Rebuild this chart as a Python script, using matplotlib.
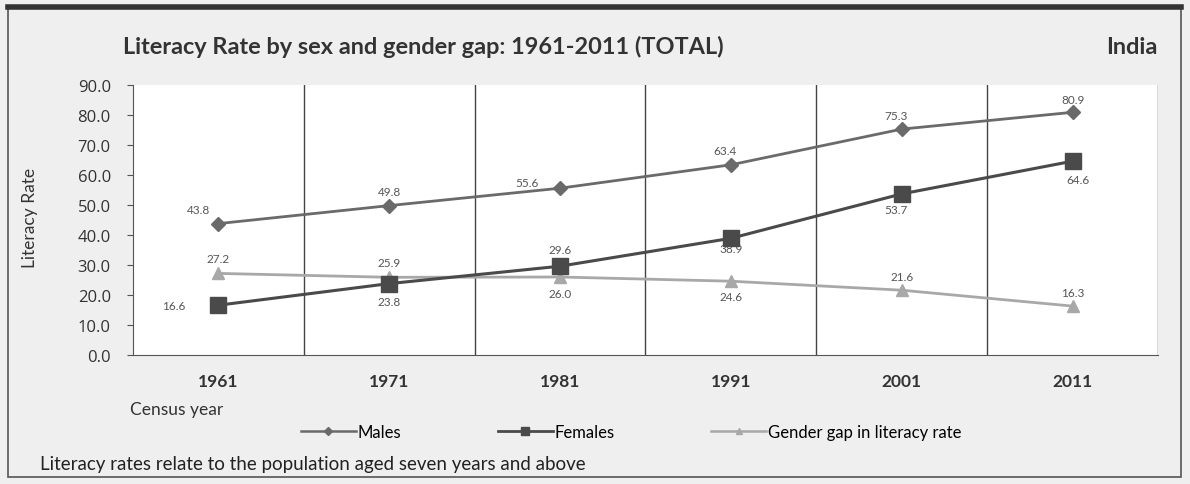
import matplotlib.pyplot as plt
from matplotlib.lines import Line2D
from matplotlib.patches import Rectangle

# Census data
years = ['1961', '1971', '1981', '1991', '2001', '2011']
males = [43.8, 49.8, 55.6, 63.4, 75.3, 80.9]
females = [16.6, 23.8, 29.6, 38.9, 53.7, 64.6]
gender_gap = [27.2, 25.9, 26.0, 24.6, 21.6, 16.3]
yticks = [0, 10, 20, 30, 40, 50, 60, 70, 80, 90]

plt.rcParams['font.family'] = ['Lato', 'DejaVu Sans']

fig = plt.figure(figsize=(11.9, 4.85), dpi=100)
fig.patch.set_facecolor('#efefef')
ax = fig.add_axes([133 / 1190, 1 - 356 / 485, (1158 - 133) / 1190, (356 - 86) / 485])
ax.set_facecolor('white')

x = list(range(len(years)))
male_col = '#6a6a6a'
female_col = '#4a4a4a'
gap_col = '#a8a8a8'

ax.plot(x, gender_gap, color=gap_col, lw=2, marker='^', ms=8, zorder=3)
ax.plot(x, females, color=female_col, lw=2.2, marker='s', ms=11, zorder=4)
ax.plot(x, males, color=male_col, lw=2, marker='D', ms=7, zorder=5)

# data labels (offsets in points)
male_off = [(-14, 10), (0, 10), (-24, 4), (-4, 10), (-4, 10), (0, 9)]
female_off = [(-32, 0), (0, -13), (0, 12), (0, -7), (-4, -11), (4, -13)]
gap_off = [(0, 11), (0, 11), (0, -12), (0, -11), (0, 10), (0, 10)]
lab_kw = dict(textcoords='offset points', ha='center', va='center',
              fontsize=8.5, color='#555555')
for i in x:
    ax.annotate(f'{males[i]:.1f}', (i, males[i]), xytext=male_off[i], **lab_kw)
    ax.annotate(f'{females[i]:.1f}', (i, females[i]), xytext=female_off[i], **lab_kw)
    ax.annotate(f'{gender_gap[i]:.1f}', (i, gender_gap[i]), xytext=gap_off[i], **lab_kw)

ax.set_xlim(-0.5, len(years) - 0.5)
ax.set_ylim(0, 90)
ax.set_yticks(yticks)
ax.set_yticklabels([f'{v:.1f}' for v in yticks], fontsize=12, color='#333333',
                   fontfamily=['Open Sans', 'DejaVu Sans'])
ax.set_xticks(x)
ax.set_xticklabels(years, fontsize=12.5, fontweight='bold', color='#333333')
ax.tick_params(axis='x', length=0, pad=13)
ax.tick_params(axis='y', length=4, color='#555555', pad=12)

# vertical separators between census years
for b in range(1, len(years) + 1):
    ax.axvline(b - 0.5, color='#444444', lw=1)
for side in ['top', 'right']:
    ax.spines[side].set_visible(False)
ax.spines['left'].set_color('#555555')
ax.spines['bottom'].set_color('#555555')

ax.set_ylabel('Literacy Rate', fontsize=12.5, color='#333333')
ax.yaxis.set_label_coords((38 - 133) / 1025, (356 - 218) / 270)

fig.text(123 / 1190, 1 - 47 / 485, 'Literacy Rate by sex and gender gap: 1961-2011 (TOTAL)',
         fontsize=16.9, fontweight='bold', color='#333333', va='center')
fig.text(1157 / 1190, 1 - 47 / 485, 'India', fontsize=16.9, fontweight='bold',
         color='#333333', va='center', ha='right')
fig.text(130 / 1190, 1 - 410 / 485, 'Census year', fontsize=12.5, color='#333333', va='center')
fig.text(40 / 1190, 1 - 465 / 485, 'Literacy rates relate to the population aged seven years and above',
         fontsize=13.5, color='#222222', va='center')

handles = [
    Line2D([], [], color=male_col, lw=1.8, marker='D', ms=4),
    Line2D([], [], color=female_col, lw=2, marker='s', ms=6),
    Line2D([], [], color=gap_col, lw=1.8, marker='^', ms=5),
]
fig.legend(handles, ['Males', 'Females', 'Gender gap in literacy rate'],
           loc='center', bbox_to_anchor=(631 / 1190, 1 - 433 / 485), ncol=3,
           frameon=False, fontsize=12, handlelength=3.3, handletextpad=0.1,
           columnspacing=5.8)

# outer frame
fig.patches.append(Rectangle((8 / 1190, 7 / 485), 1173 / 1190, 470 / 485,
                             transform=fig.transFigure, fill=False,
                             edgecolor='#555555', lw=1.2))
fig.add_artist(Line2D([8 / 1190, 1181 / 1190], [1 - 8 / 485, 1 - 8 / 485],
                      transform=fig.transFigure, color='#333333', lw=4))

fig.savefig('out.png', dpi=100, facecolor=fig.get_facecolor())
